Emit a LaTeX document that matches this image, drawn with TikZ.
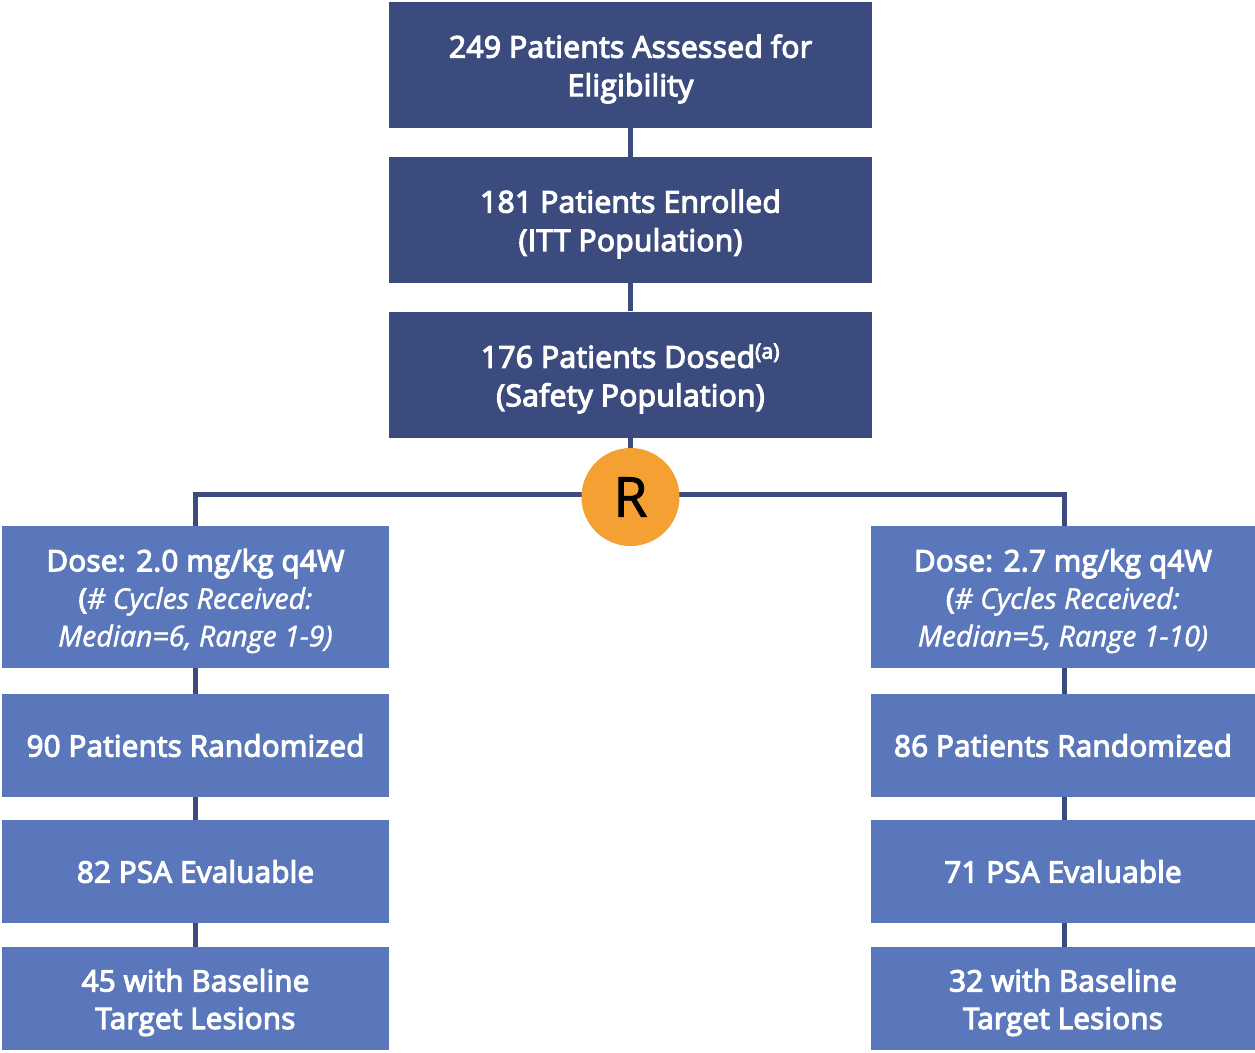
\documentclass[tikz,border=0pt]{standalone}
\usepackage{fontspec}
\setmainfont{Open Sans}
\newfontfamily\semib{Open Sans}[FakeBold=4,LetterSpace=1]
\newfontfamily\semiit{Open Sans Italic}[FakeBold=1.5]
\newfontfamily\rfont{Open Sans}[FakeBold=1.5]
\definecolor{darkbox}{HTML}{3B4B7D}
\definecolor{lightbox}{HTML}{5A77BB}
\definecolor{rorange}{HTML}{F4A033}
\begin{document}
\begin{tikzpicture}[x=1pt,y=-1pt,
  topbox/.style={fill=darkbox,minimum width=483pt,minimum height=126pt,inner sep=0pt},
  sidebox/.style={fill=lightbox,minimum width=387pt,inner sep=0pt},
  toptxt/.style={text=white,align=center,inner sep=0pt,yshift=-4pt,font=\semib\fontsize{30}{38.5}\selectfont},
  sidetxt/.style={text=white,align=center,inner sep=0pt,font=\semib\fontsize{29.5}{37.5}\selectfont},
  sidetxtm/.style={sidetxt,yshift=-4pt},
  conn/.style={draw=darkbox,line width=5pt}]
\fill[white] (0,0) rectangle (1255,1052);
\useasboundingbox (0,0) rectangle (1255,1052);
\coordinate (hl) at (195.5,494);
\coordinate (hr) at (1064,494);
\coordinate (hc) at (630.5,494);
\node[topbox,label={[toptxt]center:249 Patients Assessed for\\Eligibility}] (b1) at (630.5,65) {};
\node[topbox,label={[toptxt]center:181 Patients Enrolled\\(ITT Population)}] (b2) at (630.5,220) {};
\node[topbox,label={[toptxt]center:176 Patients Dosed\textsuperscript{(a)}\\(Safety Population)}] (b3) at (630.5,374.5) {};
\node[sidebox,minimum height=142pt,label={[sidetxtm]center:Dose: 2.0 mg/kg q4W\\{\fontsize{28.5}{36}\selectfont(\semiit\# Cycles Received:}\\{\semiit\fontsize{28.5}{36}\selectfont Median=6, Range 1-9)}}] (l1) at (195.5,597) {};
\node[sidebox,minimum height=103pt,label={[sidetxt]center:90 Patients Randomized}] (l2) at (195.5,745.5) {};
\node[sidebox,minimum height=103pt,label={[sidetxt]center:82 PSA Evaluable}] (l3) at (195.5,871.5) {};
\node[sidebox,minimum height=103pt,label={[sidetxtm]center:45 with Baseline\\Target Lesions}] (l4) at (195.5,998.5) {};
\node[sidebox,minimum height=142pt,minimum width=384pt,label={[sidetxtm]center:Dose: 2.7 mg/kg q4W\\{\fontsize{28.5}{36}\selectfont(\semiit\# Cycles Received:}\\{\semiit\fontsize{28.5}{36}\selectfont Median=5, Range 1-10)}}] (r1) at (1063,597) {};
\node[sidebox,minimum height=103pt,minimum width=384pt,label={[sidetxt]center:86 Patients Randomized}] (r2) at (1063,745.5) {};
\node[sidebox,minimum height=103pt,minimum width=384pt,label={[sidetxt]center:71 PSA Evaluable}] (r3) at (1063,871.5) {};
\node[sidebox,minimum height=103pt,minimum width=384pt,label={[sidetxtm]center:32 with Baseline\\Target Lesions}] (r4) at (1063,998.5) {};
\draw[conn] (b1.south) -- (b2.north);
\draw[conn] (b2.south) -- (b3.north);
\draw[conn] (b3.south) -- (hc);
\draw[conn] (hl |- l1.north) -- (hl) -- (hr) -- (hr |- r1.north);
\draw[conn] (l1.south -| hl) -- (l2.north -| hl);
\draw[conn] (l2.south -| hl) -- (l3.north -| hl);
\draw[conn] (l3.south -| hl) -- (l4.north -| hl);
\draw[conn] (r1.south -| hr) -- (r2.north -| hr);
\draw[conn] (r2.south -| hr) -- (r3.north -| hr);
\draw[conn] (r3.south -| hr) -- (r4.north -| hr);
\node[circle,fill=rorange,minimum size=98pt,inner sep=0pt,font=\rfont\fontsize{55}{55}\selectfont] (R) at (630.5,497) {R};
\end{tikzpicture}
\end{document}
